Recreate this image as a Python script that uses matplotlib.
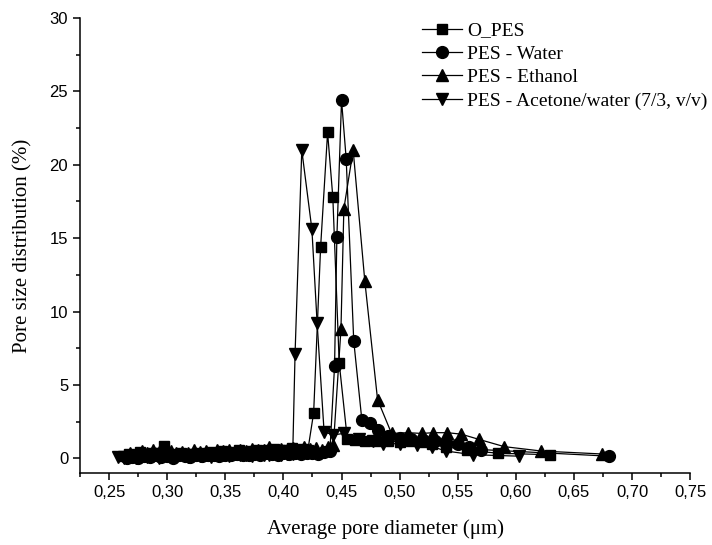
import matplotlib
matplotlib.use("Agg")
import matplotlib.pyplot as plt
from matplotlib.ticker import MultipleLocator, FuncFormatter

# O_PES (squares)
o_pes_x = [0.262, 0.267, 0.272, 0.277, 0.282, 0.287, 0.292, 0.297, 0.302, 0.307,
           0.312, 0.317, 0.322, 0.327, 0.332, 0.337, 0.342, 0.347, 0.352, 0.357,
           0.362, 0.367, 0.372, 0.377, 0.382, 0.387, 0.392, 0.397, 0.402, 0.407,
           0.412, 0.417, 0.421, 0.426, 0.432, 0.438, 0.4425, 0.448, 0.455, 0.462,
           0.470, 0.480, 0.490, 0.500, 0.510, 0.520, 0.528, 0.540, 0.558, 0.585, 0.629]
o_pes_y = [0.15, 0.30, 0.20, 0.45, 0.25, 0.40, 0.35, 0.85, 0.30, 0.20,
           0.35, 0.30, 0.25, 0.40, 0.30, 0.45, 0.35, 0.50, 0.40, 0.45,
           0.55, 0.45, 0.50, 0.60, 0.50, 0.55, 0.65, 0.55, 0.60, 0.70,
           0.60, 0.65, 0.55, 3.1, 14.4, 22.2, 17.8, 6.5, 1.3, 1.25,
           1.2, 1.15, 1.2, 1.1, 1.15, 1.1, 0.95, 0.8, 0.55, 0.35, 0.25]

# PES - Water (circles)
water_x = [0.265, 0.270, 0.275, 0.280, 0.285, 0.290, 0.295, 0.300, 0.305, 0.310,
           0.315, 0.320, 0.325, 0.330, 0.335, 0.340, 0.345, 0.350, 0.355, 0.360,
           0.365, 0.370, 0.375, 0.380, 0.385, 0.390, 0.395, 0.400, 0.405, 0.410,
           0.415, 0.420, 0.425, 0.430, 0.435, 0.440, 0.444, 0.446, 0.450, 0.454,
           0.4605, 0.4675, 0.4745, 0.481, 0.490, 0.500, 0.510, 0.520, 0.530, 0.540,
           0.550, 0.560, 0.570, 0.680]
water_y = [0.00, 0.10, 0.05, 0.15, 0.10, 0.20, 0.10, 0.15, 0.05, 0.20,
           0.15, 0.10, 0.20, 0.15, 0.25, 0.20, 0.15, 0.25, 0.20, 0.30,
           0.25, 0.20, 0.30, 0.25, 0.35, 0.30, 0.25, 0.35, 0.30, 0.40,
           0.30, 0.35, 0.40, 0.30, 0.45, 0.50, 6.3, 15.1, 24.4, 20.4,
           8.0, 2.6, 2.4, 1.9, 1.5, 1.4, 1.3, 1.25, 1.2, 1.1,
           1.0, 0.8, 0.6, 0.15]

# PES - Ethanol (up triangles)
ethanol_x = [0.268, 0.273, 0.278, 0.283, 0.288, 0.293, 0.298, 0.303, 0.308, 0.313,
             0.318, 0.323, 0.328, 0.333, 0.338, 0.343, 0.348, 0.353, 0.358, 0.363,
             0.368, 0.373, 0.378, 0.383, 0.388, 0.393, 0.398, 0.403, 0.408, 0.413,
             0.418, 0.423, 0.428, 0.433, 0.438, 0.443, 0.4495, 0.452, 0.460, 0.470,
             0.481, 0.493, 0.507, 0.519, 0.529, 0.541, 0.553, 0.568, 0.590, 0.622, 0.674]
ethanol_y = [0.35, 0.30, 0.50, 0.40, 0.55, 0.45, 0.40, 0.50, 0.35, 0.45,
             0.40, 0.55, 0.45, 0.50, 0.40, 0.55, 0.50, 0.60, 0.45, 0.55,
             0.50, 0.65, 0.55, 0.60, 0.75, 0.55, 0.65, 0.60, 0.70, 0.60,
             0.75, 0.65, 0.70, 0.60, 0.80, 0.90, 8.8, 17.0, 21.0, 12.1,
             4.0, 1.7, 1.75, 1.7, 1.75, 1.75, 1.65, 1.3, 0.8, 0.5, 0.3]

# PES - Acetone/water (down triangles)
acetone_x = [0.258, 0.263, 0.268, 0.273, 0.278, 0.283, 0.288, 0.293, 0.298, 0.303,
             0.308, 0.313, 0.318, 0.323, 0.328, 0.333, 0.338, 0.343, 0.348, 0.353,
             0.358, 0.363, 0.368, 0.373, 0.378, 0.383, 0.388, 0.393, 0.398, 0.403,
             0.408, 0.410, 0.4158, 0.4245, 0.429, 0.435, 0.443, 0.452, 0.465, 0.477,
             0.486, 0.500, 0.515, 0.528, 0.540, 0.563, 0.603]
acetone_y = [0.10, 0.00, 0.15, 0.05, 0.20, 0.10, 0.15, 0.05, 0.20, 0.10,
             0.15, 0.20, 0.10, 0.25, 0.15, 0.20, 0.10, 0.25, 0.20, 0.15,
             0.30, 0.20, 0.25, 0.15, 0.30, 0.20, 0.25, 0.35, 0.20, 0.30,
             0.30, 7.1, 21.0, 15.6, 9.2, 1.8, 1.6, 1.7, 1.3, 1.15,
             1.0, 1.0, 0.9, 0.8, 0.5, 0.25, 0.15]

fig = plt.figure(figsize=(7.12, 5.45), dpi=100)
ax = fig.add_axes([0.1124, 0.132, 0.857, 0.835])

series = [
    (o_pes_x, o_pes_y, 's', 7, 'O_PES'),
    (water_x, water_y, 'o', 8.5, 'PES - Water'),
    (ethanol_x, ethanol_y, '^', 9, 'PES - Ethanol'),
    (acetone_x, acetone_y, 'v', 9, 'PES - Acetone/water (7/3, v/v)'),
]
for xs, ys, mk, ms, lab in series:
    ax.plot(xs, ys, color='black', lw=0.9, marker=mk, ms=ms,
            mfc='black', mec='black', label=lab)

ax.set_xlim(0.225, 0.75)
ax.set_ylim(-1, 30)
ax.set_xticks([t / 100 for t in range(25, 80, 5)])
ax.xaxis.set_minor_locator(MultipleLocator(0.025))
ax.yaxis.set_major_locator(MultipleLocator(5))
ax.yaxis.set_minor_locator(MultipleLocator(2.5))
ax.xaxis.set_major_formatter(FuncFormatter(lambda v, p: f"{v:.2f}".replace('.', ',')))
ax.yaxis.set_major_formatter(FuncFormatter(lambda v, p: f"{v:.0f}"))

for s in ['top', 'right']:
    ax.spines[s].set_visible(False)
for s in ['left', 'bottom']:
    ax.spines[s].set_linewidth(1.1)

ax.tick_params(which='major', direction='out', length=5, width=1.1,
               labelsize=12, labelfontfamily='Liberation Sans')
ax.tick_params(which='minor', direction='out', length=3, width=1.1)

ax.set_xlabel('Average pore diameter (\u03bcm)', fontsize=15,
              family='Liberation Serif', labelpad=14)
ax.set_ylabel('Pore size distribution (%)', fontsize=15,
              family='Liberation Serif', labelpad=12)

leg = ax.legend(loc='upper left', bbox_to_anchor=(0.593, 0.960),
                bbox_transform=fig.transFigure, frameon=False,
                prop={'family': 'Liberation Serif', 'size': 14},
                handlelength=2.05, handletextpad=0.25, labelspacing=0.3,
                borderpad=0, borderaxespad=0)

fig.savefig('out.png', dpi=100)
